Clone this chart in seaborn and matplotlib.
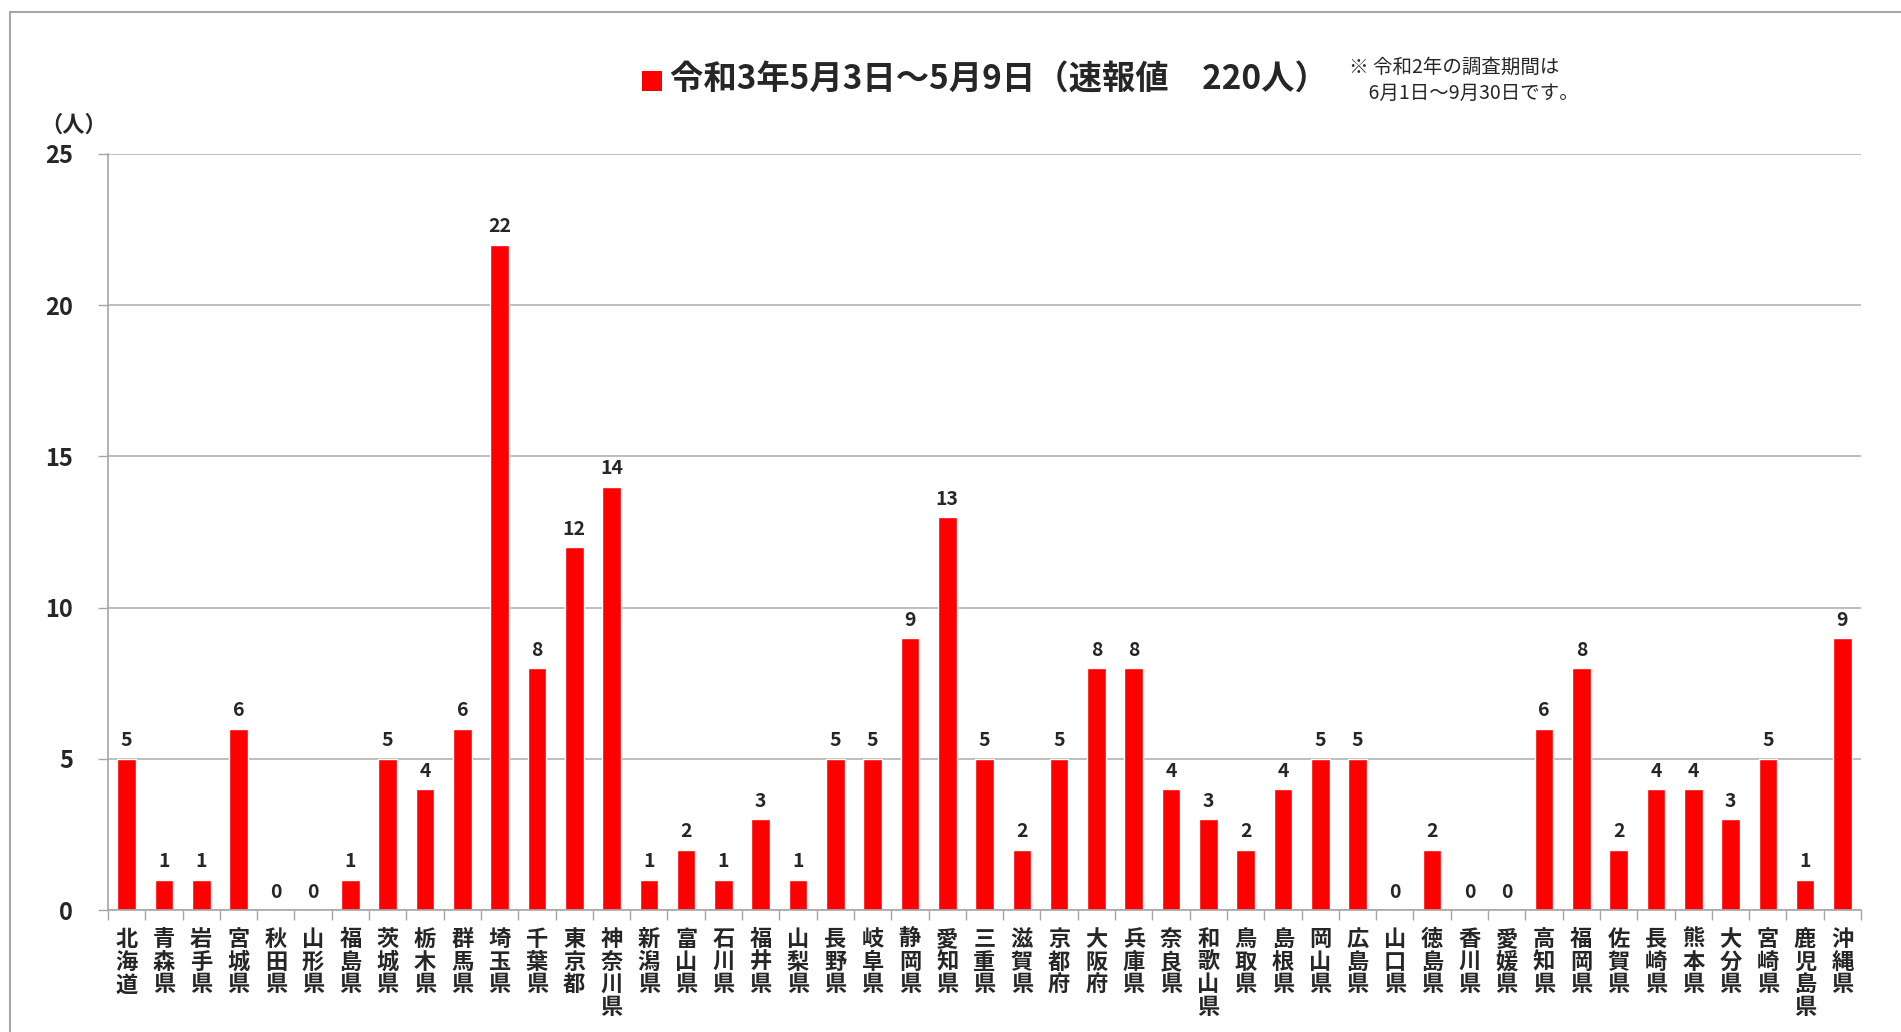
import numpy as np
import pandas as pd
import matplotlib
matplotlib.use("Agg")
import matplotlib.pyplot as plt
import seaborn as sns
from matplotlib.patches import Rectangle

sns.set_theme(style="white")
plt.rcParams['font.family'] = ['Noto Sans CJK JP', 'DejaVu Sans']

# --- データ ---
prefectures = ['北海道', '青森県', '岩手県', '宮城県', '秋田県', '山形県', '福島県',
               '茨城県', '栃木県', '群馬県', '埼玉県', '千葉県', '東京都', '神奈川県',
               '新潟県', '富山県', '石川県', '福井県', '山梨県', '長野県', '岐阜県',
               '静岡県', '愛知県', '三重県', '滋賀県', '京都府', '大阪府', '兵庫県',
               '奈良県', '和歌山県', '鳥取県', '島根県', '岡山県', '広島県', '山口県',
               '徳島県', '香川県', '愛媛県', '高知県', '福岡県', '佐賀県', '長崎県',
               '熊本県', '大分県', '宮崎県', '鹿児島県', '沖縄県']
counts = [5, 1, 1, 6, 0, 0, 1,
          5, 4, 6, 22, 8, 12, 14,
          1, 2, 1, 3, 1, 5, 5,
          9, 13, 5, 2, 5, 8, 8,
          4, 3, 2, 4, 5, 5, 0,
          2, 0, 0, 6, 8, 2, 4,
          4, 3, 5, 1, 9]
y_ticks = [0, 5, 10, 15, 20, 25]

title_text = '令和3年5月3日～5月9日（速報値　220人）'
note_text = '※ 令和2年の調査期間は\n　6月1日～9月30日です。'

df = pd.DataFrame({'pref': prefectures, 'count': counts})

fig = plt.figure(figsize=(19.01, 10.32), dpi=100)
ax = fig.add_axes([0.0568, 0.1182, 0.9222, 0.7326])

sns.barplot(data=df, x='pref', y='count', color='#ff0000', width=0.5,
            saturation=1, ax=ax)

for c in ax.containers:
    ax.bar_label(c, fmt='%d', padding=6, fontsize=14, fontweight='bold')

ax.set_ylim(0, 25)
ax.set_xlim(-0.5, len(prefectures) - 0.5)
ax.set_yticks(y_ticks)
ax.set_yticklabels([str(v) for v in y_ticks], fontsize=17, fontweight='bold')
ax.set_xticks(range(len(prefectures)))
ax.set_xticklabels(['\n'.join(p) for p in prefectures], fontsize=16,
                   fontweight='bold', linespacing=0.98, va='top')
ax.set_xticks(np.arange(-0.5, len(prefectures), 1), minor=True)
ax.tick_params(axis='x', which='major', length=0, pad=13)
ax.tick_params(axis='x', which='minor', length=7, color='#a6a6a6', width=1,
               direction='out', bottom=True)
ax.tick_params(axis='y', length=7, color='#a6a6a6', width=1, direction='out',
               left=True, pad=18)
ax.set_xlabel('')
ax.set_ylabel('')

ax.yaxis.grid(True, color='#b3b3b3', linewidth=1.2)
ax.set_axisbelow(True)
for s in ['top', 'right']:
    ax.spines[s].set_visible(False)
for s in ['left', 'bottom']:
    ax.spines[s].set_color('#a6a6a6')
    ax.spines[s].set_linewidth(1.2)

# 単位
fig.text(0.021, 0.879, '（人）', fontsize=16, fontweight='bold', ha='left', va='center')

# タイトル（凡例風）
fig.patches.append(Rectangle((0.3375, 0.912), 0.0105, 0.0195, transform=fig.transFigure,
                             facecolor='#ff0000', edgecolor='none'))
fig.text(0.3525, 0.922, title_text, fontsize=24, fontweight='bold', ha='left', va='center')
fig.text(0.7095, 0.922, note_text, fontsize=14, ha='left', va='center', linespacing=1.3)

# 外枠
fig.patches.append(Rectangle((0.0053, -0.1), 1.2, 1.088, transform=fig.transFigure,
                             facecolor='none', edgecolor='#a6a6a6', linewidth=1.5))

fig.savefig('out.png', dpi=100)
